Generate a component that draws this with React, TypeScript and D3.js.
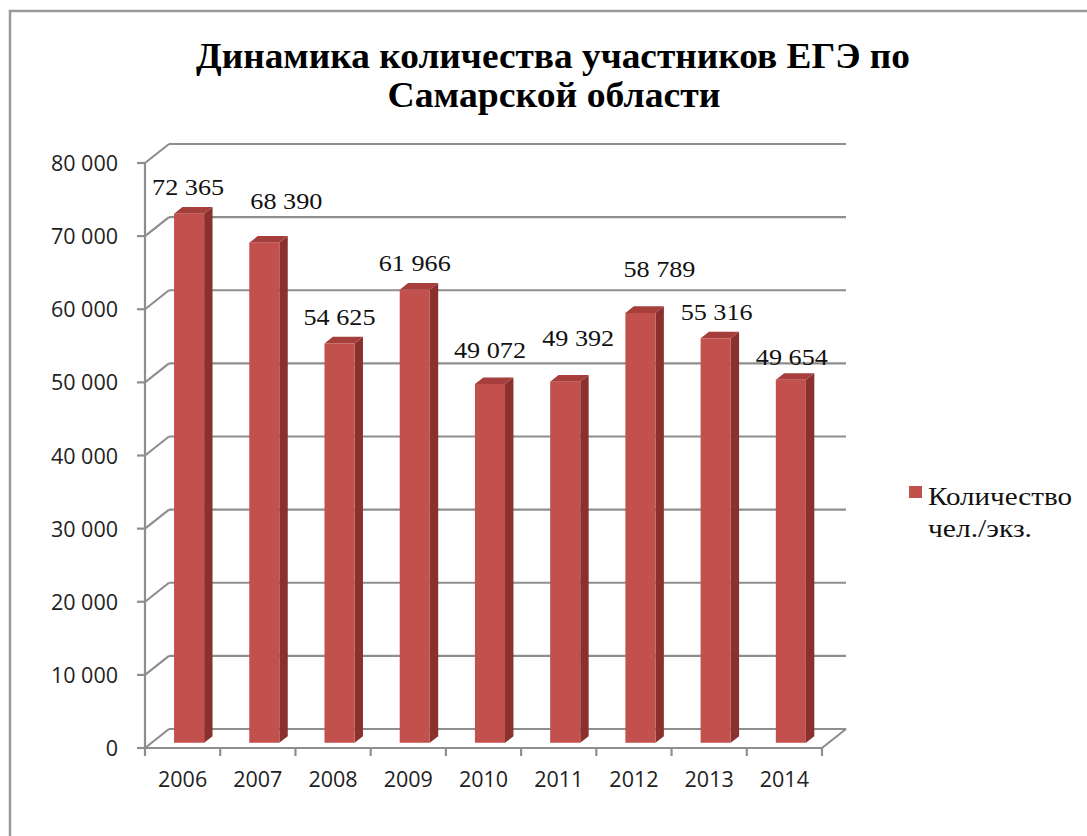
import * as d3 from "d3";

const years = ["2006", "2007", "2008", "2009", "2010", "2011", "2012", "2013", "2014"];
const participants = [72365, 68390, 54625, 61966, 49072, 49392, 58789, 55316, 49654];
const yTicks = [0, 10000, 20000, 30000, 40000, 50000, 60000, 70000, 80000];
const titleLines = ["Динамика количества участников ЕГЭ по", "Самарской области"];
const legendLines = ["Количество", "чел./экз."];

// small nudges of the data labels, as placed in the original chart
const labelDx = [-1, 22, 0, 0, 0, 13, 19, 1, 1];
const labelDy = [-19, -34, -18, -19, -26, -36, -36, -18, -15];

const W = 1087;
const H = 836;
const plot = { left: 145, right: 822, top: 163, bottom: 748 };
const depth = { dx: 24, dy: -19 };
const barFront = 0.27;
const barBack = 0.62;

const fmt = (v: number) => d3.format(",")(v).replace(/,/g, " ");

export default function App() {
  const x = d3.scaleBand<string>().domain(years).range([plot.left, plot.right]).paddingInner(0).paddingOuter(0);
  const y = d3.scaleLinear().domain([0, 80000]).range([plot.bottom, plot.top]);
  const bw = x.bandwidth() * 0.4;
  const grid = "#8e8e8e";
  const sideX = (barBack - barFront) * depth.dx;
  const sideY = (barBack - barFront) * depth.dy;

  return (
    <svg width={W} height={H} style={{ position: "absolute", left: 0, top: 0, background: "#fff" }}>
      {/* frame */}
      <path d={`M10,${H} V11 H${W}`} fill="none" stroke="#9a9a9a" strokeWidth={2.5} />

      {/* title */}
      <text x={553} y={68} textAnchor="middle" fontFamily="Liberation Serif" fontWeight="bold" fontSize={35} fill="#000" textLength={714} lengthAdjust="spacingAndGlyphs">
        {titleLines[0]}
      </text>
      <text x={554} y={107} textAnchor="middle" fontFamily="Liberation Serif" fontWeight="bold" fontSize={35} fill="#000" textLength={333} lengthAdjust="spacingAndGlyphs">
        {titleLines[1]}
      </text>

      {/* gridlines, back wall and left wall */}
      {yTicks.map((t) => {
        const yy = y(t);
        return (
          <g key={t} stroke={grid} strokeWidth={2.2} fill="none">
            <line x1={plot.left - 8} x2={plot.left} y1={yy} y2={yy} />
            <line x1={plot.left} y1={yy} x2={plot.left + depth.dx} y2={yy + depth.dy} />
            <line x1={plot.left + depth.dx} y1={yy + depth.dy} x2={plot.right + depth.dx} y2={yy + depth.dy} />
          </g>
        );
      })}
      {/* floor */}
      <g stroke={grid} strokeWidth={2.2} fill="none">
        <line x1={plot.left} y1={plot.bottom} x2={plot.right} y2={plot.bottom} />
        <line x1={plot.right} y1={plot.bottom} x2={plot.right + depth.dx} y2={plot.bottom + depth.dy} />
        <line x1={plot.left} y1={plot.top} x2={plot.left} y2={plot.bottom} />
        {d3.range(years.length + 1).map((i) => (
          <line key={i} x1={plot.left + i * x.step()} x2={plot.left + i * x.step()} y1={plot.bottom} y2={plot.bottom + 8} />
        ))}
      </g>

      {/* y labels */}
      {yTicks.map((t) => (
        <text key={t} x={118} y={y(t) + 8} textAnchor="end" fontFamily="Open Sans" fontSize={21.5} fill="#222">
          {fmt(t)}
        </text>
      ))}
      {/* x labels */}
      {years.map((yr) => (
        <text key={yr} x={(x(yr) ?? 0) + x.bandwidth() / 2} y={787} textAnchor="middle" fontFamily="Open Sans" fontSize={21.5} fill="#222">
          {yr}
        </text>
      ))}

      {/* bars */}
      {years.map((yr, i) => {
        const v = participants[i];
        const cx = (x(yr) ?? 0) + x.bandwidth() / 2;
        const fx = cx - bw / 2 + barFront * depth.dx;
        const fy0 = plot.bottom + barFront * depth.dy;
        const fy1 = y(v) + barFront * depth.dy;
        const front = `M${fx},${fy0} V${fy1} H${fx + bw} V${fy0} Z`;
        const side = `M${fx + bw},${fy0} V${fy1} L${fx + bw + sideX},${fy1 + sideY} V${fy0 + sideY} Z`;
        const top = `M${fx},${fy1} L${fx + sideX},${fy1 + sideY} H${fx + bw + sideX} L${fx + bw},${fy1} Z`;
        return (
          <g key={yr}>
            <path d={side} fill="#8a302e" />
            <path d={top} fill="#a63f3c" />
            <path d={front} fill="#c2504d" />
          </g>
        );
      })}
      {/* data labels */}
      {years.map((yr, i) => {
        const v = participants[i];
        const cx = (x(yr) ?? 0) + x.bandwidth() / 2 + barFront * depth.dx;
        const fy1 = y(v) + barFront * depth.dy;
        return (
          <text key={yr} x={cx + labelDx[i]} y={fy1 + labelDy[i]} textAnchor="middle" fontFamily="Liberation Serif" fontSize={24} fill="#111" textLength={72} lengthAdjust="spacingAndGlyphs">
            {fmt(v)}
          </text>
        );
      })}

      {/* legend */}
      <rect x={909} y={486} width={13} height={12} fill="#c2504d" />
      {legendLines.map((t, i) => (
        <text key={t} x={928} y={505 + i * 32} fontFamily="Liberation Serif" fontSize={26} fill="#111" textLength={i === 0 ? 144 : 104} lengthAdjust="spacingAndGlyphs">
          {t}
        </text>
      ))}
    </svg>
  );
}
